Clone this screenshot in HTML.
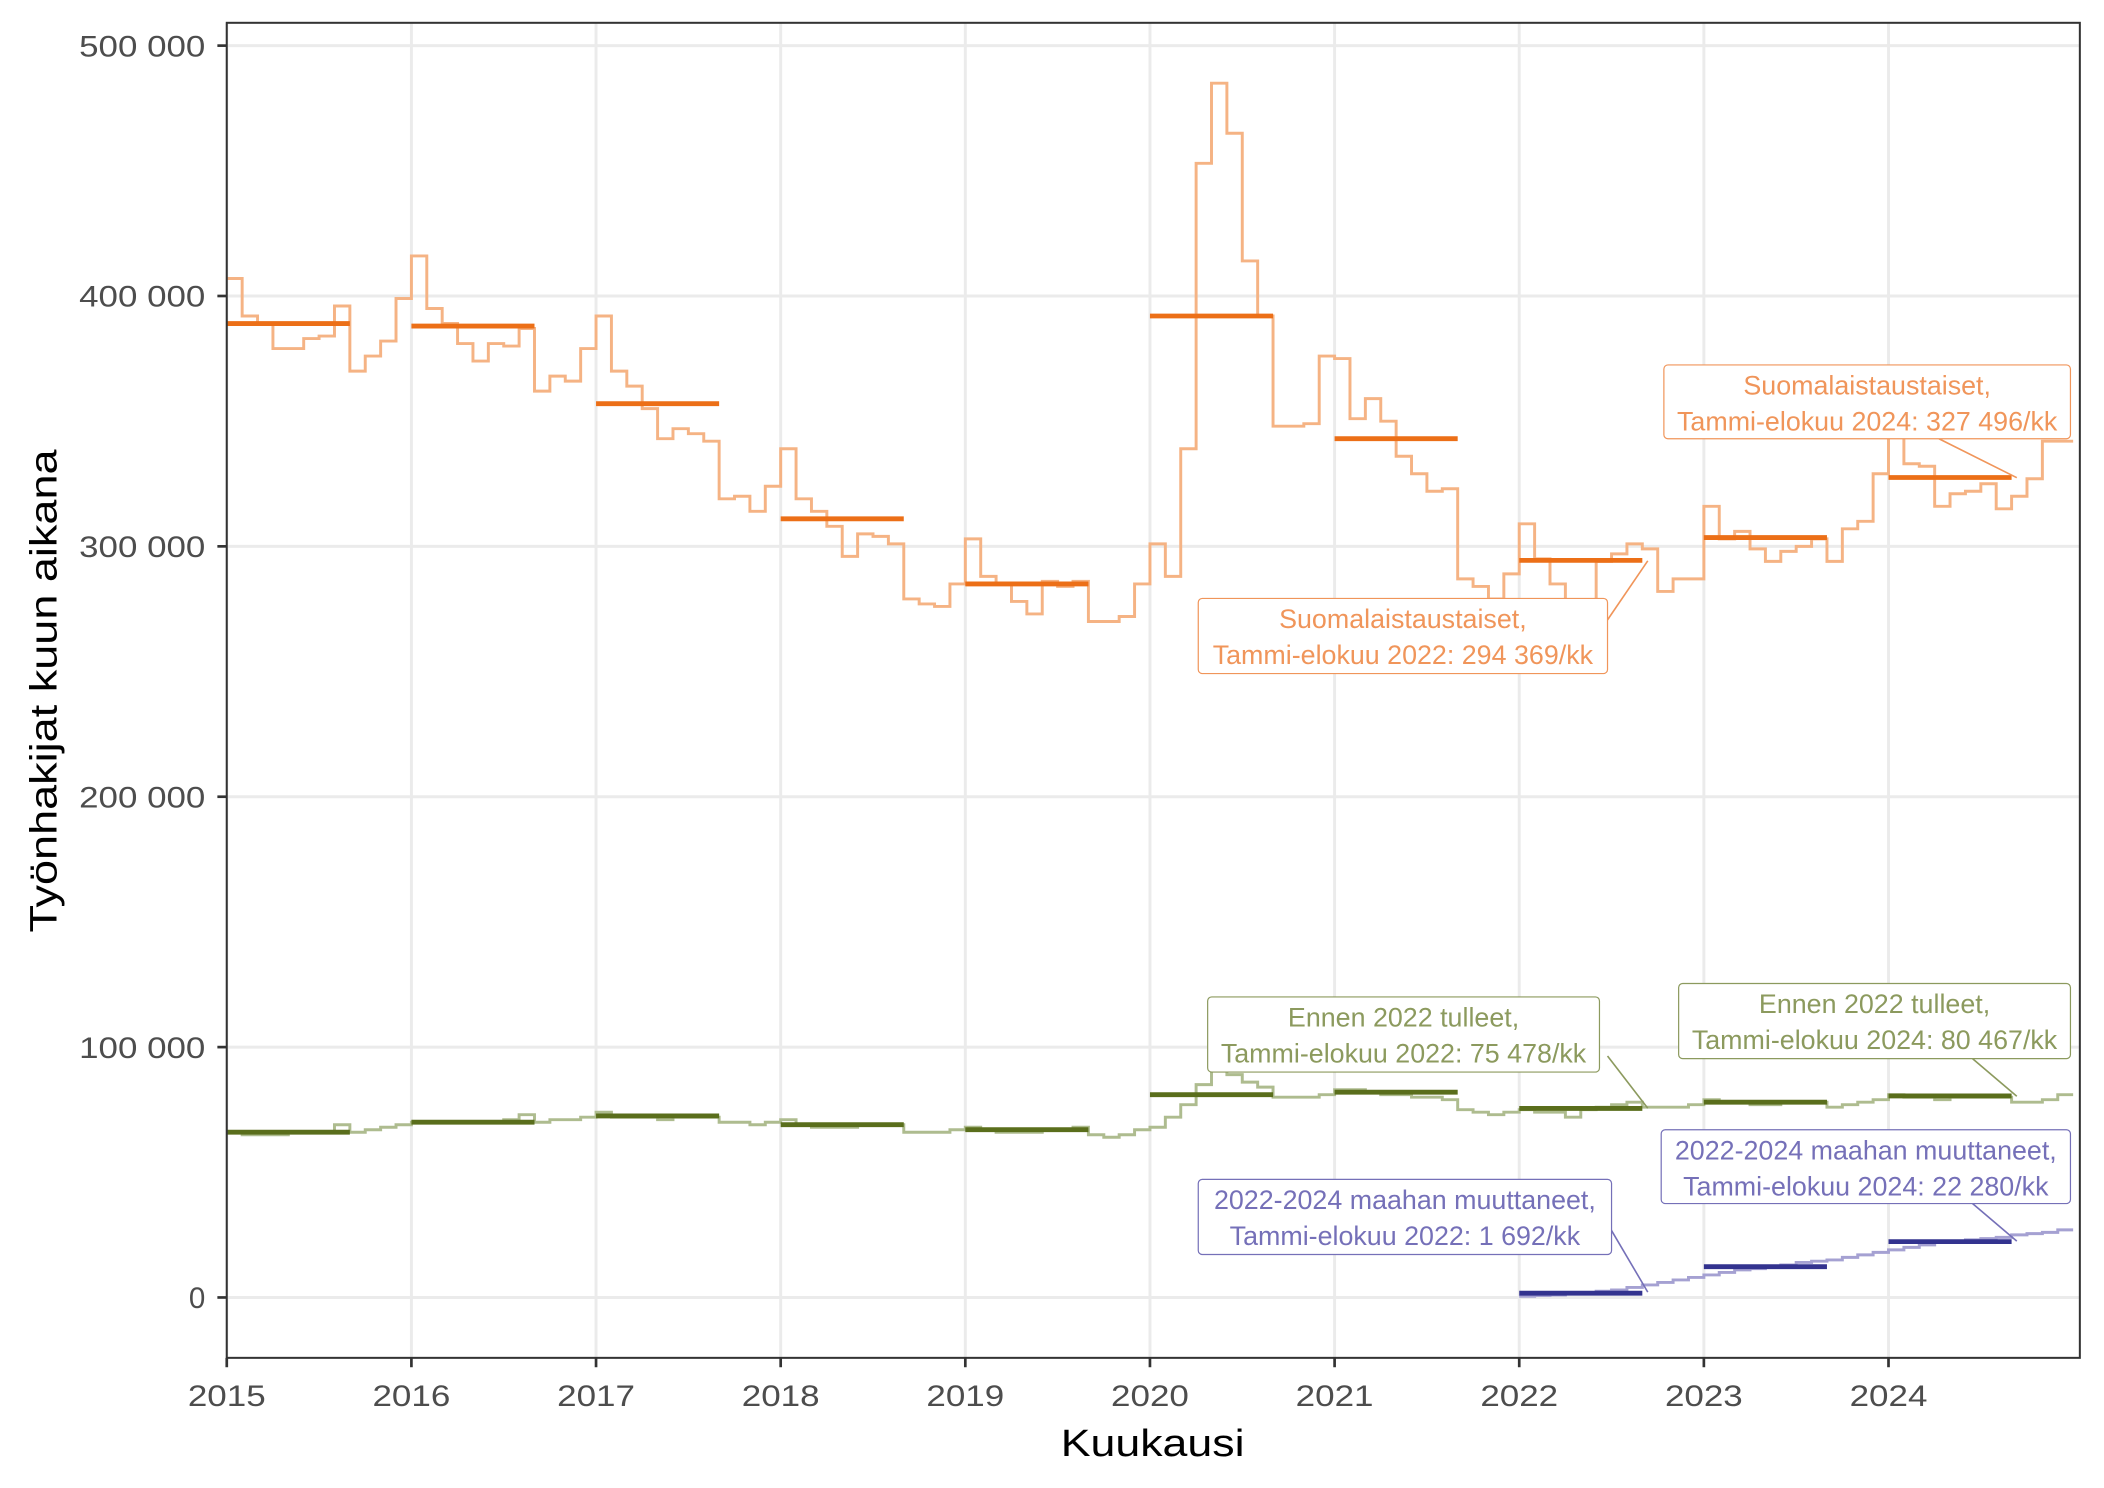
<!DOCTYPE html>
<html><head><meta charset="utf-8"><style>
html,body{margin:0;padding:0;background:#fff}
svg{display:block;font-family:"Liberation Sans",Arial,sans-serif}
</style></head><body>
<svg id="s" width="2104" height="1488" viewBox="0 0 1568 1109" preserveAspectRatio="none" xmlns="http://www.w3.org/2000/svg">
<rect width="1568" height="1109" fill="#fff"/>
<g id="grid" stroke="#ebebeb" stroke-width="2.2"></g>
<g id="series"></g>
<g id="ann" font-size="20"></g>
<rect x="169" y="17" width="1381" height="995" fill="none" stroke="#333" stroke-width="1.5"/>
<g id="ticks" stroke="#333" stroke-width="2"></g>
<g id="labels" fill="#4d4d4d" font-size="22"></g>
<text x="859" y="1085" text-anchor="middle" font-size="28" fill="#000" textLength="137" lengthAdjust="spacingAndGlyphs">Kuukausi</text>
<text transform="translate(42,515) rotate(-90)" text-anchor="middle" font-size="28" fill="#000" textLength="360" lengthAdjust="spacingAndGlyphs">Työnhakijat kuun aikana</text>
</svg>
<script>
const NS="http://www.w3.org/2000/svg";
function el(p,t,a,txt){const e=document.createElementNS(NS,t);for(const k in a)e.setAttribute(k,a[k]);if(txt!=null)e.textContent=txt;document.getElementById(p).appendChild(e);return e;}
const X=m=>169+m*11.4667, Y=v=>967-v*1.866;
for(let v=0;v<=500;v+=100){el("grid","line",{x1:169,x2:1550,y1:Y(v),y2:Y(v)});
 el("ticks","line",{x1:162,x2:169,y1:Y(v),y2:Y(v)});
 const a={x:153,y:Y(v)+8,"text-anchor":"end"};
 if(v>0){a.textLength=94;a.lengthAdjust="spacingAndGlyphs";}
 el("labels","text",a,v==0?"0":v+" 000");}
for(let y=0;y<10;y++){const x=X(y*12);el("grid","line",{x1:x,x2:x,y1:17,y2:1012});
 el("ticks","line",{x1:x,x2:x,y1:1012,y2:1019});
 el("labels","text",{x:x,y:1048,"text-anchor":"middle",textLength:58,lengthAdjust:"spacingAndGlyphs"},String(2015+y));}
const O=[407,392,389,379,379,383,384,396,370,376,382,399,
416,395,389,381,374,381,380,387,362,368,366,379,
392,370,364,355,343,347,345,342,319,320,314,324,
339,319,314,308,296,305,304,301,279,277,276,285,
303,288,285,278,273,286,284,286,270,270,272,285,
301,288,339,453,485,465,414,392,348,348,349,376,
375,351,359,350,336,329,322,323,287,284,279,289,
309,295,285,276,277,294,297,301,299,282,287,287,
316,303,306,299,294,298,300,303,294,307,310,329,
347,333,332,316,321,322,325,315,320,327,342,342];
const G=[66,65,65,65,66,66,66,69,66,67,68,69,70,70,70,70,70,70,71,73,70,71,71,72,
74,72,72,72,71,72,72,72,70,70,69,70,71,69,68,68,68,69,69,69,66,66,66,67,
68,67,66,66,66,67,67,68,65,64,65,67,68,72,77,85,91,89,86,84,80,80,80,81,
83,83,82,81,81,80,80,79,75,74,73,74,75,74,74,72,75,76,77,78,76,76,76,77,
79,78,78,77,77,78,78,78,76,77,78,79,81,80,80,79,80,80,80,80,78,78,79,81];
const P=[0.5,0.8,1,1.5,2,2.5,3,4,5,6,7,8,9,10,11,11.5,12,13,14,14.5,15,16,17,18,19,20,21,22,22.5,23,23.5,24,25,25.5,26,27];
function step(arr,start,color){let d="";arr.forEach((v,i)=>{const x0=X(start+i),x1=X(start+i+1),y=Y(v);d+=(i?"L":"M")+x0+","+y+"L"+x1+","+y;});
 el("series","path",{d:d,fill:"none",stroke:color,"stroke-width":2.2});}
step(O,0,"#f5b384");step(G,0,"#aebc8f");step(P,84,"#a5a1d2");
function means(arr,start,color){for(let i=0;i<arr.length;i++)el("series","line",{x1:X(start+i*12),x2:X(start+i*12+8),y1:Y(arr[i]),y2:Y(arr[i]),stroke:color,"stroke-width":3.6});}
means([389,388,357,311,285,392,343,294.4,303.5,327.5],0,"#ec6f17");
means([66,70,72.5,69,67,81,82,75.5,78,80.5],0,"#5a6e1c");
means([1.7,12.3,22.3],84,"#33338f");
function ann(x,y,w,h,l1,l2,c,lx1,ly1,lx2,ly2){
 el("ann","line",{x1:lx1,y1:ly1,x2:lx2,y2:ly2,stroke:c,"stroke-width":1.2});
 el("ann","rect",{x:x,y:y,width:w,height:h,rx:3,fill:"#fff",stroke:c,"stroke-width":0.9});
 el("ann","text",{x:x+w/2,y:y+22,"text-anchor":"middle",fill:c},l1);
 el("ann","text",{x:x+w/2,y:y+49,"text-anchor":"middle",fill:c},l2);}
const oc="#f0955a",gc="#8c9a5e",pc="#7570b8";
ann(1240,272,303,55,"Suomalaistaustaiset,","Tammi-elokuu 2024: 327 496/kk",oc,1445,327,1503,356);
ann(893,446,305,56,"Suomalaistaustaiset,","Tammi-elokuu 2022: 294 369/kk",oc,1198,462,1228,418);
ann(900,743,292,56,"Ennen 2022 tulleet,","Tammi-elokuu 2022: 75 478/kk",gc,1198,787,1228,826);
ann(1251,733,292,56,"Ennen 2022 tulleet,","Tammi-elokuu 2024: 80 467/kk",gc,1470,789,1503,817);
ann(1238,842,305,55,"2022-2024 maahan muuttaneet,","Tammi-elokuu 2024: 22 280/kk",pc,1470,897,1503,925);
ann(893,879,308,56,"2022-2024 maahan muuttaneet,","Tammi-elokuu 2022: 1 692/kk",pc,1198,912,1228,963);
</script>
</body></html>
